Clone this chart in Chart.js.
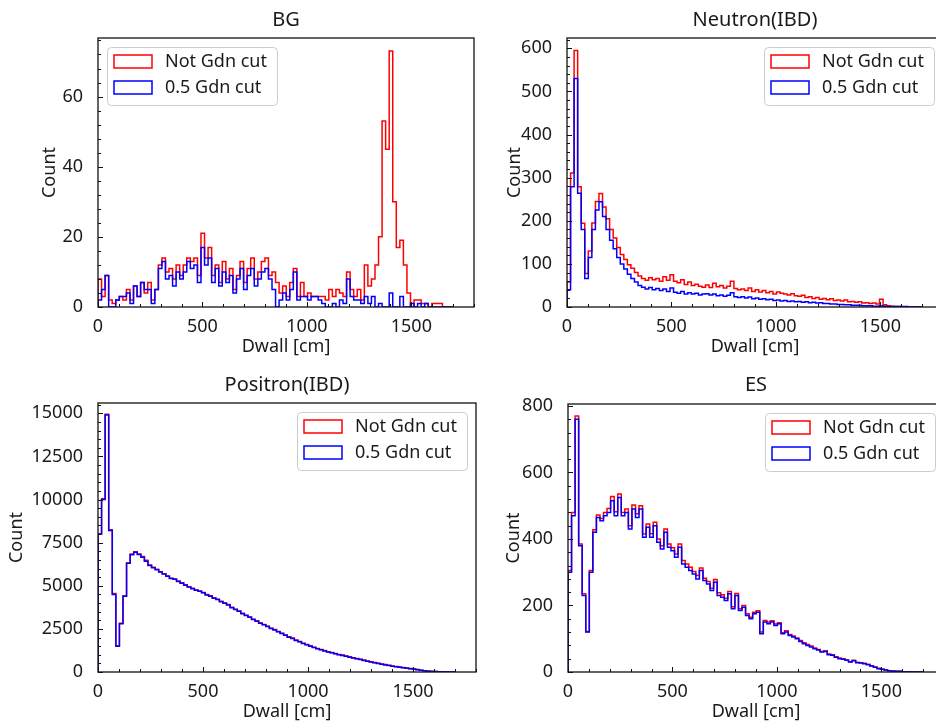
<!DOCTYPE html>
<html>
<head>
<meta charset="utf-8">
<script src="https://cdn.jsdelivr.net/npm/chart.js@4.4.0/dist/chart.umd.min.js"></script>
<style>
html, body { margin: 0; padding: 0; background: #fff; overflow: hidden; }
body { width: 936px; height: 722px; position: relative; }
canvas { position: absolute; }
</style>
</head>
<body>
<canvas id="bg" width="480" height="361" style="left:0;top:0"></canvas>
<canvas id="neutron" width="480" height="361" style="left:470px;top:0"></canvas>
<canvas id="positron" width="480" height="357" style="left:0;top:365px"></canvas>
<canvas id="es" width="480" height="357" style="left:470px;top:365px"></canvas>
<script>
// bin edges of the Dwall histograms [cm]
const binEdges = [0,17,34,51,68,85,102,119,136,153,170,187,204,221,238,255,272,289,306,323,340,357,374,391,408,425,442,459,476,493,510,527,544,561,578,595,612,629,646,663,680,697,714,731,748,765,782,799,816,833,850,867,884,901,918,935,952,969,986,1003,1020,1037,1054,1071,1088,1105,1122,1139,1156,1173,1190,1207,1224,1241,1258,1275,1292,1309,1326,1343,1360,1377,1394,1411,1428,1445,1462,1479,1496,1513,1530,1547,1564,1581,1598,1615,1632,1649,1666,1683,1700];

const seriesLabels = ['Not Gdn cut', '0.5 Gdn cut'];

const bgNoCut = [
  8,3,9,2,1,2,3,2,5,2,
  6,3,7,4,7,2,5,12,14,10,
  11,8,12,9,12,14,13,14,9,21,
  14,17,9,12,7,13,8,11,5,9,
  13,7,11,14,8,10,13,14,9,10,
  7,4,6,3,7,11,3,7,3,4,
  3,3,3,3,2,5,3,5,4,3,
  10,5,3,5,2,12,6,8,12,20,
  53,45,73,30,17,19,12,4,0,2,
  2,1,1,0,1,1,1,0,0,0];
const bgGdnCut = [
  2,5,9,0,0,2,3,3,4,1,
  6,3,7,5,5,1,5,11,13,8,
  9,6,10,8,10,13,11,12,7,17,
  12,14,7,11,6,10,7,9,4,8,
  11,5,9,11,6,8,10,11,8,5,
  0,2,4,2,5,10,2,3,3,2,
  3,3,2,1,0,0,1,0,2,1,
  8,3,2,2,1,3,1,3,0,1,
  0,0,4,0,0,3,0,0,1,0,
  1,0,1,0,0,0,0,0,0,0];

const neutronNoCut = [
  58,311,595,279,194,78,130,195,245,263,
  232,205,180,160,138,122,110,98,90,80,
  72,66,62,68,63,66,60,70,62,75,
  60,56,63,52,58,50,53,48,46,51,
  45,55,47,50,44,48,60,43,40,42,
  38,44,36,40,35,38,33,36,30,35,
  32,30,28,31,26,25,27,22,24,20,
  22,18,20,17,19,15,16,14,16,12,
  13,11,12,9,10,8,9,7,18,5,
  3,2,1,1,0,0,0,0,0,0];
const neutronGdnCut = [
  40,279,530,264,180,66,115,180,225,244,
  210,180,155,135,115,100,88,76,66,58,
  50,46,42,45,40,43,38,42,36,44,
  34,32,36,30,33,30,32,28,30,31,
  28,30,26,28,25,27,33,24,22,24,
  21,23,19,21,18,19,17,18,15,16,
  14,15,13,14,12,13,11,12,10,11,
  9,10,8,8,7,7,6,6,5,5,
  4,4,4,3,3,3,2,2,3,2,
  1,1,1,1,1,1,0,0,0,0];

const positronNoCut = [
  8000,10050,14950,8250,4550,1520,2820,4420,6320,6850,
  6980,6850,6700,6480,6200,6080,5960,5820,5700,5570,
  5440,5400,5280,5170,5060,4950,4850,4760,4700,4610,
  4490,4420,4300,4220,4100,4000,3920,3750,3640,3540,
  3400,3290,3190,3060,2970,2840,2760,2660,2540,2460,
  2350,2250,2150,2040,1970,1850,1770,1670,1600,1520,
  1440,1370,1310,1240,1180,1130,1080,1020,980,930,
  880,830,790,740,690,640,600,550,510,470,
  430,390,350,320,290,260,235,210,180,140,
  100,75,55,40,28,18,10,4,0,0];
const positronGdnCut = [
  8000,10000,14900,8200,4500,1500,2800,4400,6300,6800,
  6950,6820,6650,6420,6180,6050,5930,5800,5680,5550,
  5420,5380,5250,5150,5030,4930,4830,4740,4680,4590,
  4470,4400,4280,4200,4080,3980,3880,3720,3620,3520,
  3380,3270,3170,3040,2950,2820,2740,2640,2520,2440,
  2330,2230,2130,2020,1950,1830,1750,1650,1580,1500,
  1420,1350,1290,1220,1160,1110,1060,1000,960,910,
  860,810,770,720,670,620,580,530,490,450,
  410,370,330,300,270,245,220,195,170,130,
  95,70,50,36,25,16,9,3,0,0];

const esNoCut = [
  305,480,770,385,235,122,305,428,472,462,
  480,492,528,482,535,480,490,440,502,476,
  500,415,445,416,450,400,380,430,385,374,
  355,385,335,325,315,302,290,313,282,272,
  252,278,238,232,222,242,196,236,190,200,
  175,165,180,184,120,155,150,154,144,148,
  118,124,113,108,102,95,88,83,78,72,
  68,62,64,54,52,46,42,40,36,31,
  35,29,28,26,23,19,15,11,8,6,
  4,3,2,2,1,1,1,0,0,0];
const esGdnCut = [
  300,470,760,380,230,120,300,420,465,455,
  470,480,515,470,525,470,480,430,490,465,
  490,405,435,405,440,390,370,420,375,365,
  345,375,325,315,305,295,280,305,275,265,
  245,270,230,225,215,235,190,230,185,195,
  170,160,175,180,115,150,145,150,140,145,
  115,120,110,105,100,92,85,80,75,70,
  66,60,62,52,50,44,40,38,35,30,
  34,28,27,25,22,18,14,10,8,6,
  4,3,2,2,1,1,1,0,0,0];

// tick labels
const xTicks = [0, 500, 1000, 1500];
const bgYTicks = [0, 20, 40, 60];
const neutronYTicks = [0, 100, 200, 300, 400, 500, 600];
const positronYTicks = [0, 2500, 5000, 7500, 10000, 12500, 15000];
const esYTicks = [0, 200, 400, 600, 800];

const FONT = '"Noto Sans", "DejaVu Sans", sans-serif';
const TXT = '#1a1a1a';
const YW = 90, XH = 30;

function histPoints(counts) {
  const pts = [{ x: binEdges[0], y: 0 }];
  counts.forEach((c, i) => pts.push({ x: binEdges[i], y: c }));
  pts.push({ x: binEdges[binEdges.length - 1], y: 0 });
  return pts;
}

// matplotlib-like frame, inward ticks, titles and legend
const mplFrame = {
  id: 'mplFrame',
  afterDatasetsDraw(chart, args, o) {
    const { ctx, chartArea: a } = chart;
    const x = chart.scales.x, y = chart.scales.y;
    ctx.save();
    ctx.strokeStyle = '#111';
    ctx.lineWidth = 1;
    ctx.beginPath();
    for (let v = 0; v <= x.max; v += o.xMinor) {
      const px = Math.round(x.getPixelForValue(v)) + 0.5;
      const len = xTicks.includes(v) ? 5 : 3;
      ctx.moveTo(px, a.bottom);
      ctx.lineTo(px, a.bottom - len);
    }
    for (let v = 0; v <= y.max; v += o.yMinor) {
      const py = Math.round(y.getPixelForValue(v)) + 0.5;
      const len = o.yTicks.includes(v) ? 5 : 3;
      ctx.moveTo(a.left, py);
      ctx.lineTo(a.left + len, py);
    }
    ctx.stroke();
    ctx.lineWidth = 1.3;
    ctx.strokeRect(a.left, a.top, a.right - a.left, a.bottom - a.top);

    // texts
    ctx.fillStyle = TXT;
    ctx.textAlign = 'center';
    ctx.textBaseline = 'middle';
    ctx.font = '20px ' + FONT;
    ctx.fillText(o.title, (a.left + a.right) / 2, 20);
    ctx.font = '18px ' + FONT;
    ctx.fillText('Dwall [cm]', (a.left + a.right) / 2, a.bottom + 40);
    ctx.save();
    ctx.translate(a.left - o.countOffset, (a.top + a.bottom) / 2);
    ctx.rotate(-Math.PI / 2);
    ctx.fillText('Count', 0, 0);
    ctx.restore();

    // legend
    const lw = 170, lh = 58;
    const lx = o.legendSide === 'left' ? a.left + 9 : a.right - 9 - lw;
    const ly = a.top + 9;
    ctx.beginPath();
    ctx.roundRect(lx + 0.5, ly + 0.5, lw, lh, 4);
    ctx.fillStyle = 'rgba(255,255,255,0.8)';
    ctx.fill();
    ctx.strokeStyle = '#cccccc';
    ctx.lineWidth = 1;
    ctx.stroke();
    const legendItems = chart.data.datasets.slice().sort((p, q) => q.order - p.order);
    legendItems.forEach((ds, i) => {
      const cy = ly + 14.5 + i * 26;
      ctx.strokeStyle = ds.borderColor;
      ctx.lineWidth = 1.5;
      ctx.strokeRect(lx + 7, cy - 6.5, 38, 13);
      ctx.fillStyle = TXT;
      ctx.textAlign = 'left';
      ctx.font = '18px ' + FONT;
      ctx.fillText(ds.label, lx + 58, cy);
    });
    ctx.restore();
  }
};

function makeChart(id, cfg) {
  const canvas = document.getElementById(id);
  const W = canvas.width, H = canvas.height, area = cfg.area;
  new Chart(canvas, {
    type: 'line',
    data: {
      datasets: [
        { label: seriesLabels[0], data: histPoints(cfg.noCut), borderColor: '#ff0000', order: 2 },
        { label: seriesLabels[1], data: histPoints(cfg.gdnCut), borderColor: '#0000ff', order: 1 }
      ]
    },
    options: {
      responsive: false,
      animation: false,
      events: [],
      layout: {
        padding: { left: area.left - YW, top: area.top, right: W - area.right, bottom: H - area.bottom - XH }
      },
      elements: {
        point: { radius: 0 },
        line: { borderWidth: 1.5, tension: 0, stepped: 'before', fill: false }
      },
      plugins: {
        legend: { display: false },
        tooltip: { enabled: false },
        mplFrame: cfg.frame
      },
      scales: {
        x: {
          type: 'linear', min: 0, max: 1800,
          grid: { display: false }, border: { display: false },
          ticks: { font: { family: FONT, size: 18 }, color: TXT, padding: 1, maxRotation: 0, autoSkip: false, includeBounds: false, callback: v => String(v) },
          afterBuildTicks: s => { s.ticks = xTicks.map(v => ({ value: v })); },
          afterFit: s => { s.height = XH; }
        },
        y: {
          type: 'linear', min: 0, max: cfg.ymax,
          grid: { display: false }, border: { display: false },
          ticks: { font: { family: FONT, size: 18 }, color: TXT, padding: 7, autoSkip: false, includeBounds: false, callback: v => String(v) },
          afterBuildTicks: s => { s.ticks = cfg.frame.yTicks.map(v => ({ value: v })); },
          afterFit: s => { s.width = YW; }
        }
      }
    },
    plugins: [mplFrame]
  });
}

makeChart('bg', {
  noCut: bgNoCut, gdnCut: bgGdnCut, ymax: 76.7,
  area: { left: 98, top: 38, right: 474, bottom: 307 },
  frame: { title: 'BG', yTicks: bgYTicks, yMinor: 4, xMinor: 100, legendSide: 'left', countOffset: 48 }
});
makeChart('neutron', {
  noCut: neutronNoCut, gdnCut: neutronGdnCut, ymax: 624,
  area: { left: 97, top: 38, right: 473, bottom: 307 },
  frame: { title: 'Neutron(IBD)', yTicks: neutronYTicks, yMinor: 20, xMinor: 100, legendSide: 'right', countOffset: 52 }
});
makeChart('positron', {
  noCut: positronNoCut, gdnCut: positronGdnCut, ymax: 15600,
  area: { left: 98, top: 38, right: 476, bottom: 307 },
  frame: { title: 'Positron(IBD)', yTicks: positronYTicks, yMinor: 500, xMinor: 100, legendSide: 'right', countOffset: 81 }
});
makeChart('es', {
  noCut: esNoCut, gdnCut: esGdnCut, ymax: 806,
  area: { left: 98, top: 39, right: 474, bottom: 307 },
  frame: { title: 'ES', yTicks: esYTicks, yMinor: 40, xMinor: 100, legendSide: 'right', countOffset: 54 }
});
</script>
</body>
</html>
